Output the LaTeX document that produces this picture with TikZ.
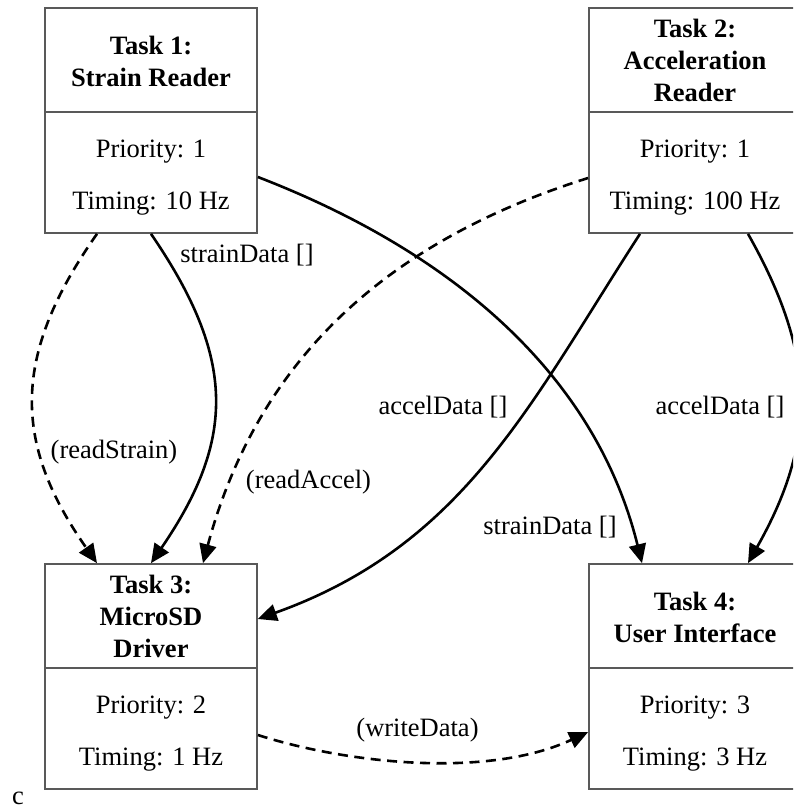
\documentclass[tikz,border=0pt]{standalone}
\usepackage{fontspec}
\setmainfont{Liberation Serif}
\usetikzlibrary{arrows.meta}
\begin{document}
\begin{tikzpicture}[x=1pt,y=1pt,
  taskbox/.style={draw=black!65, line width=1.7pt, minimum width=212pt,
    minimum height=225pt, inner sep=0pt, fill=white},
  divider/.style={draw=black!65, line width=1.7pt},
  title/.style={font=\fontsize{26.5}{32}\selectfont\bfseries, align=center, inner sep=0pt},
  field/.style={font=\fontsize{26.5}{32}\selectfont, inner sep=0pt},
  lbl/.style={font=\fontsize{26.5}{32}\selectfont, inner sep=0pt},
  flow/.style={line width=2.6pt, -{Triangle[length=19pt,width=17pt]}},
  call/.style={flow, dash pattern=on 10pt off 6.5pt}]

\useasboundingbox (0,0) rectangle (793,-809);
\fill[white] (0,0) rectangle (793,-809);
\clip (0,0) rectangle (793,-809);

% task boxes
\node[taskbox] (t1) at (151,-120.5) {};
\node[taskbox] (t2) at (695,-120.5) {};
\node[taskbox] (t3) at (151,-676.5) {};
\node[taskbox] (t4) at (695,-676.5) {};

\foreach \t in {t1,t2,t3,t4}
  \draw[divider] ([yshift=-105pt]\t.north west) -- ([yshift=-105pt]\t.north east);

% headers
\node[title] (t1h) at (151,-61) {Task 1:\\Strain Reader};
\node[title] (t2h) at (695,-60) {Task 2:\\Acceleration\\Reader};
\node[title] (t3h) at (151,-616.5) {Task 3:\\MicroSD\\Driver};
\node[title] (t4h) at (695,-617) {Task 4:\\User Interface};

% properties
\node[field] (t1p) at (151,-152) {Priority: 1};
\node[field] (t1f) at (151,-203.5) {Timing: 10 Hz};
\node[field] (t2p) at (695,-152) {Priority: 1};
\node[field] (t2f) at (695,-203.5) {Timing: 100 Hz};
\node[field] (t3p) at (151,-708) {Priority: 2};
\node[field] (t3f) at (151,-759.5) {Timing: 1 Hz};
\node[field] (t4p) at (695,-708) {Priority: 3};
\node[field] (t4f) at (695,-759.5) {Timing: 3 Hz};

% connections
\draw[call] ([xshift=-54pt]t1.south) .. controls +(-85,-121) and +(-85,121) .. ([xshift=-54pt]t3.north);
\draw[flow] (t1.south) .. controls +(85,-124) and +(85,124) .. (t3.north);
\draw[call] ([yshift=-57.5pt]t2.west) .. controls +(-191,-60) and +(57,212) .. ([xshift=52pt]t3.north);
\draw[flow] ([yshift=-56.5pt]t1.east) .. controls +(187,-72) and +(-48,194) .. ([xshift=-53pt]t4.north);
\draw[flow] ([xshift=-55pt]t2.south) .. controls +(-109,-168) and +(207,74) .. ([yshift=57.5pt]t3.east);
\draw[flow] ([xshift=53pt]t2.south) .. controls +(69,-122) and +(69,122) .. ([xshift=53pt]t4.north);
\draw[call] ([yshift=-58.5pt]t3.east) .. controls +(90.5,-28.9) and +(-99.7,-46.5) .. ([yshift=-55.5pt]t4.west);

% connection labels
\node[lbl] (l1) at (247,-255) {strainData []};
\node[lbl] (l2) at (114,-452) {(readStrain)};
\node[lbl] (l3) at (308.5,-482) {(readAccel)};
\node[lbl] (l4) at (443,-407) {accelData []};
\node[lbl] (l5) at (720,-407) {accelData []};
\node[lbl] (l6) at (550,-527) {strainData []};
\node[lbl] (l7) at (417.5,-730) {(writeData)};

\node[lbl, anchor=base west] (tag) at (12,-804) {c};
\end{tikzpicture}
\end{document}
